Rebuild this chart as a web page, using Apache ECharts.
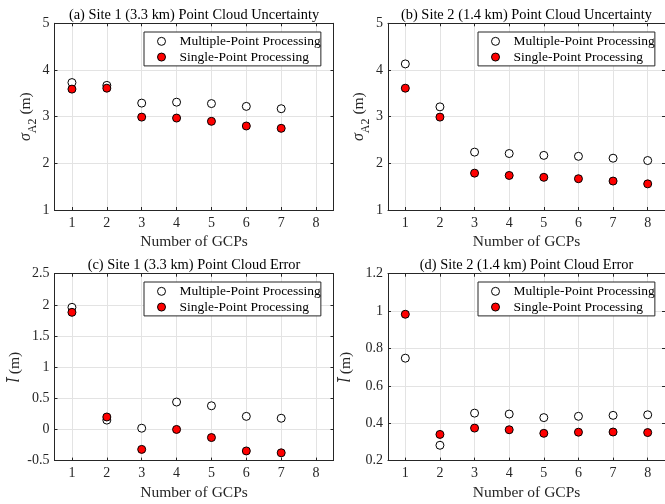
<!DOCTYPE html>
<html>
<head>
<meta charset="utf-8">
<script src="https://cdn.jsdelivr.net/npm/echarts@6/dist/echarts.min.js"></script>
<style>html,body{margin:0;padding:0;background:#fff;}#c{width:665px;height:504px;}</style>
</head>
<body>
<div id="c"></div>
<script>
// ---- data ----
const gcpLabels = ['1', '2', '3', '4', '5', '6', '7', '8'];
const seriesNames = ['Multiple-Point Processing', 'Single-Point Processing'];
const titles = [
  '(a) Site 1 (3.3 km) Point Cloud Uncertainty',
  '(b) Site 2 (1.4 km) Point Cloud Uncertainty',
  '(c) Site 1 (3.3 km) Point Cloud Error',
  '(d) Site 2 (1.4 km) Point Cloud Error'
];
const aMulti  = [3.73, 3.67, 3.29, 3.31, 3.28, 3.22, 3.17];
const aSingle = [3.59, 3.61, 2.99, 2.97, 2.90, 2.80, 2.75];
const bMulti  = [4.13, 3.21, 2.24, 2.21, 2.17, 2.15, 2.11, 2.06];
const bSingle = [3.61, 2.99, 1.79, 1.74, 1.70, 1.67, 1.62, 1.56];
const cMulti  = [1.96, 0.15, 0.02, 0.44, 0.38, 0.21, 0.18];
const cSingle = [1.88, 0.20, -0.32, 0.00, -0.13, -0.345, -0.375];
const dMulti  = [0.748, 0.282, 0.454, 0.449, 0.430, 0.437, 0.442, 0.445];
const dSingle = [0.983, 0.340, 0.374, 0.365, 0.346, 0.352, 0.353, 0.350];
const yRanges = [[1, 5, 1], [1, 5, 1], [-0.5, 2.5, 0.5], [0.2, 1.2, 0.2]];

// ---- layout / style ----
const FONT = '"Liberation Serif", "Times New Roman", serif';
const AX = '#262626';
const GRIDC = '#e3e3e3';
const grids = [
  {left: 54.5, top: 23.3, width: 279, height: 186.7},
  {left: 388, top: 23.3, width: 279, height: 186.7},
  {left: 54.5, top: 273.7, width: 279, height: 186.9},
  {left: 388, top: 273.7, width: 279, height: 186.9}
];
const yNameGaps = [13, 13, 27, 29];
const sigmaName = '{s|σ}{sub|A2}{n| (m)}';
const lName = '{s|l\u0304}{n| (m)}';
const rich = {
  s: {fontFamily: FONT, fontStyle: 'italic', fontSize: 16, color: AX, lineHeight: 26, verticalAlign: 'middle'},
  sub: {fontFamily: FONT, fontSize: 12, color: AX, lineHeight: 12, verticalAlign: 'bottom'},
  n: {fontFamily: FONT, fontSize: 15.5, color: AX, lineHeight: 26, verticalAlign: 'middle'}
};
const allData = [[aMulti, aSingle], [bMulti, bSingle], [cMulti, cSingle], [dMulti, dSingle]];

const xAxis = [], yAxis = [], series = [], legend = [], graphic = [];
grids.forEach((g, i) => {
  xAxis.push({
    type: 'category', gridIndex: i, data: gcpLabels, boundaryGap: true,
    axisLine: {show: true, onZero: false, lineStyle: {color: AX, width: 1}},
    axisTick: {show: true, inside: true, alignWithLabel: true, interval: 0, length: 3, lineStyle: {color: AX}},
    axisLabel: {interval: 0, margin: 6, fontFamily: FONT, fontSize: 14, color: AX},
    splitLine: {show: true, alignWithLabel: true, interval: 0, lineStyle: {color: GRIDC, width: 1}},
    name: 'Number of GCPs', nameLocation: 'middle', nameGap: 24,
    nameTextStyle: {fontFamily: FONT, fontSize: 15.5, color: AX}
  });
  xAxis.push({
    type: 'category', gridIndex: i, data: gcpLabels, position: 'top', boundaryGap: true,
    axisLine: {show: true, onZero: false, lineStyle: {color: AX, width: 1}},
    axisTick: {show: true, inside: true, alignWithLabel: true, interval: 0, length: 3, lineStyle: {color: AX}},
    axisLabel: {show: false}, splitLine: {show: false}
  });
  const [mn, mx, iv] = yRanges[i];
  yAxis.push({
    type: 'value', gridIndex: i, min: mn, max: mx, interval: iv,
    axisLine: {show: true, onZero: false, lineStyle: {color: AX, width: 1}},
    axisTick: {show: true, inside: true, length: 3, lineStyle: {color: AX}},
    axisLabel: {margin: 5, fontFamily: FONT, fontSize: 14, color: AX},
    splitLine: {show: true, lineStyle: {color: GRIDC, width: 1}},
    name: i < 2 ? sigmaName : lName, nameLocation: 'middle', nameGap: yNameGaps[i],
    nameTextStyle: {rich: rich}
  });
  yAxis.push({
    type: 'value', gridIndex: i, min: mn, max: mx, interval: iv, position: 'right',
    axisLine: {show: true, onZero: false, lineStyle: {color: AX, width: 1}},
    axisTick: {show: true, inside: true, length: 3, lineStyle: {color: AX}},
    axisLabel: {show: false}, splitLine: {show: false}
  });
  series.push({
    name: seriesNames[0], type: 'scatter', xAxisIndex: 2 * i, yAxisIndex: 2 * i,
    data: allData[i][0], symbol: 'circle', symbolSize: 8,
    itemStyle: {color: '#ffffff', borderColor: '#000000', borderWidth: 1, opacity: 1}
  });
  series.push({
    name: seriesNames[1], type: 'scatter', xAxisIndex: 2 * i, yAxisIndex: 2 * i,
    data: allData[i][1], symbol: 'circle', symbolSize: 8,
    itemStyle: {color: '#ff0000', borderColor: '#000000', borderWidth: 1, opacity: 1}
  });
  legend.push({
    orient: 'vertical', left: (i % 2 === 0) ? 144 : 478, top: (i < 2) ? 32 : 282,
    data: seriesNames, icon: 'circle', itemWidth: 26, itemHeight: 8, itemGap: 0,
    itemStyle: {borderWidth: 1, borderColor: '#000'},
    padding: [1.5, 0, 1, 13], borderColor: AX, borderWidth: 1, backgroundColor: '#ffffff',
    borderRadius: 0, selectedMode: false,
    textStyle: {fontFamily: FONT, fontSize: 13.5, color: '#000', lineHeight: 15.7}
  });
  graphic.push({
    type: 'text', x: g.left + g.width / 2 - (i % 2 === 1 ? 1 : 0), y: g.top - 1,
    style: {text: titles[i], font: '14.4px ' + FONT, fill: '#000', align: 'center', verticalAlign: 'bottom'}
  });
});

const chart = echarts.init(document.getElementById('c'), null, {renderer: 'canvas'});
chart.setOption({
  animation: false,
  backgroundColor: '#ffffff',
  grid: grids.map(g => Object.assign({containLabel: false}, g)),
  xAxis: xAxis, yAxis: yAxis, series: series, legend: legend, graphic: graphic
});
</script>
</body>
</html>
